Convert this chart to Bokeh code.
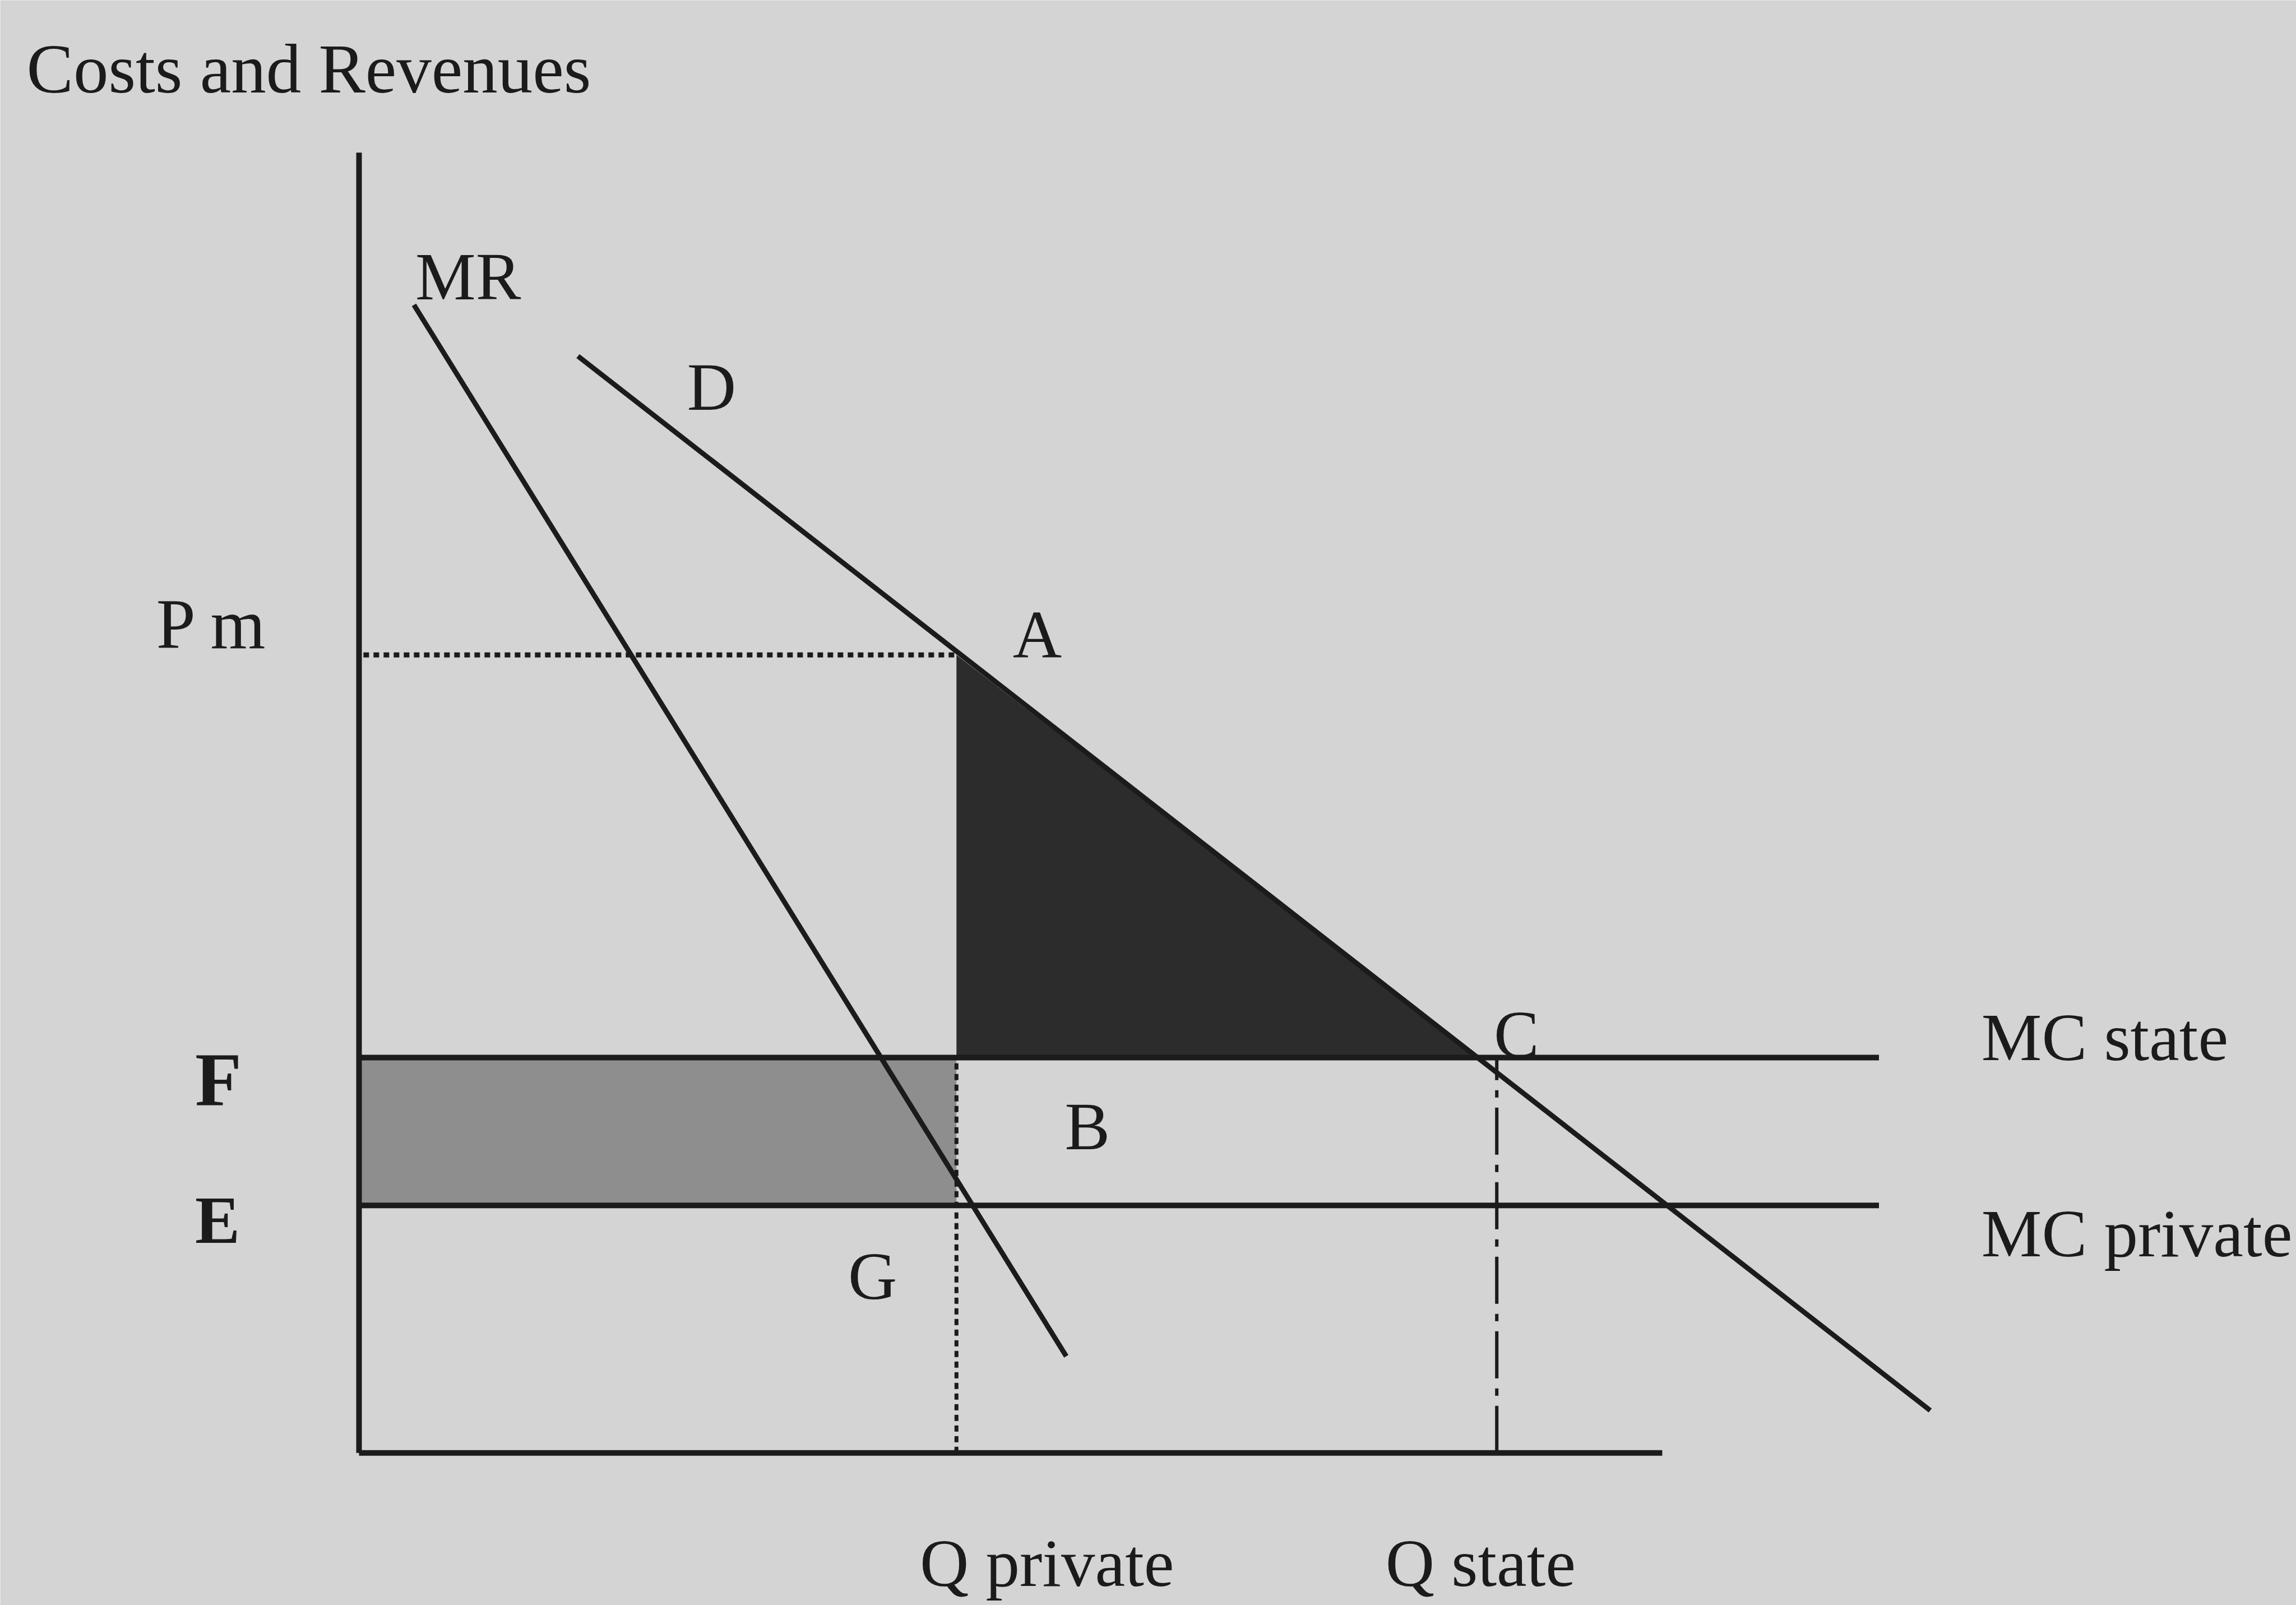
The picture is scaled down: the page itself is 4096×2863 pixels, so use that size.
from bokeh.plotting import figure
from bokeh.embed import file_html
from bokeh.resources import INLINE
from bokeh.core.properties import value

# ---- data (diagram units: quantity on x, cost/revenue on y) ----
axis_x_end = 89.0
axis_y_top = 88.8

mr_x = [3.75, 48.3]
mr_y = [78.4, 6.6]

d_x = [14.95, 107.3]
d_y = [74.9, 2.9]

p_m = 54.5          # monopoly price
f_level = 27.0      # MC state
e_level = 16.9      # MC private
mc_x_end = 103.8

q_private = 40.8
q_state = 77.7
c_x = 76.4          # D meets MC state

dark_x = [q_private, q_private, c_x]
dark_y = [p_m, f_level, f_level]

gray_x = [0, q_private, q_private, 0]
gray_y = [f_level, f_level, e_level, e_level]

labels = ["MR", "D", "A", "C", "B", "G", "MC state", "MC private", "Q private", "Q state"]
label_x = [3.85, 22.4, 44.65, 77.5, 48.2, 33.4, 110.8, 110.8, 38.3, 70.1]
label_y = [80.35, 72.8, 55.9, 28.6, 22.3, 12.1, 28.4, 15.0, -7.5, -7.5]

pm_label = "P m"
pm_x = -13.85
pm_y = 56.6

big_labels = ["F", "E"]
big_x = [-11.2, -11.2]
big_y = [25.5, 15.9]
big_sizes = ["136px", "120px"]

title = "Costs and Revenues"
title_x = -22.7
title_y = 94.5

BG = "#d4d4d4"
INK = "#1b1b1b"
FONT = value("Liberation Serif")

p = figure(width=4096, height=2863, output_backend="svg", toolbar_location=None,
           x_range=(-24.5, 132.3), y_range=(-10.4, 99.2),
           x_axis_type=None, y_axis_type=None, min_border=0,
           background_fill_color=BG, border_fill_color=BG, outline_line_color=None)
p.grid.visible = False

# shaded areas
p.patch(gray_x, gray_y, fill_color="#8e8e8e", line_color=None)
p.patch(dark_x, dark_y, fill_color="#2c2c2c", line_color=None)

# axes
p.line([0, 0], [0, axis_y_top], line_color=INK, line_width=10)
p.line([0, axis_x_end], [0, 0], line_color=INK, line_width=10)

# MC lines
p.line([0, mc_x_end], [f_level, f_level], line_color=INK, line_width=10)
p.line([0, mc_x_end], [e_level, e_level], line_color=INK, line_width=10)

# MR and D
p.line(mr_x, mr_y, line_color=INK, line_width=9)
p.line(d_x, d_y, line_color=INK, line_width=9)

# dotted guides
p.line([0.3, q_private], [p_m, p_m], line_color=INK, line_width=9, line_dash="10 8")
p.line([q_private, q_private], [0, f_level], line_color=INK, line_width=7, line_dash="11 8")
p.line([q_state, q_state], [0, f_level], line_color=INK, line_width=6, line_dash="84 18 13 18")

# texts
p.text(x=label_x, y=label_y, text=labels, text_font=FONT, text_font_size="121px",
       text_color=INK, text_align="left", text_baseline="alphabetic")
p.text(x=[pm_x], y=[pm_y], text=[pm_label], text_font=FONT, text_font_size="126px",
       text_color=INK, text_align="left", text_baseline="alphabetic")
for lab, lx, ly, sz in zip(big_labels, big_x, big_y, big_sizes):
    p.text(x=[lx], y=[ly], text=[lab], text_font=FONT, text_font_size=sz,
           text_font_style="bold", text_color=INK, text_align="left", text_baseline="alphabetic")
p.text(x=[title_x], y=[title_y], text=[title], text_font=FONT, text_font_size="125px",
       text_color=INK, text_align="left", text_baseline="alphabetic")

open("out.html", "w").write(file_html(p, INLINE))
